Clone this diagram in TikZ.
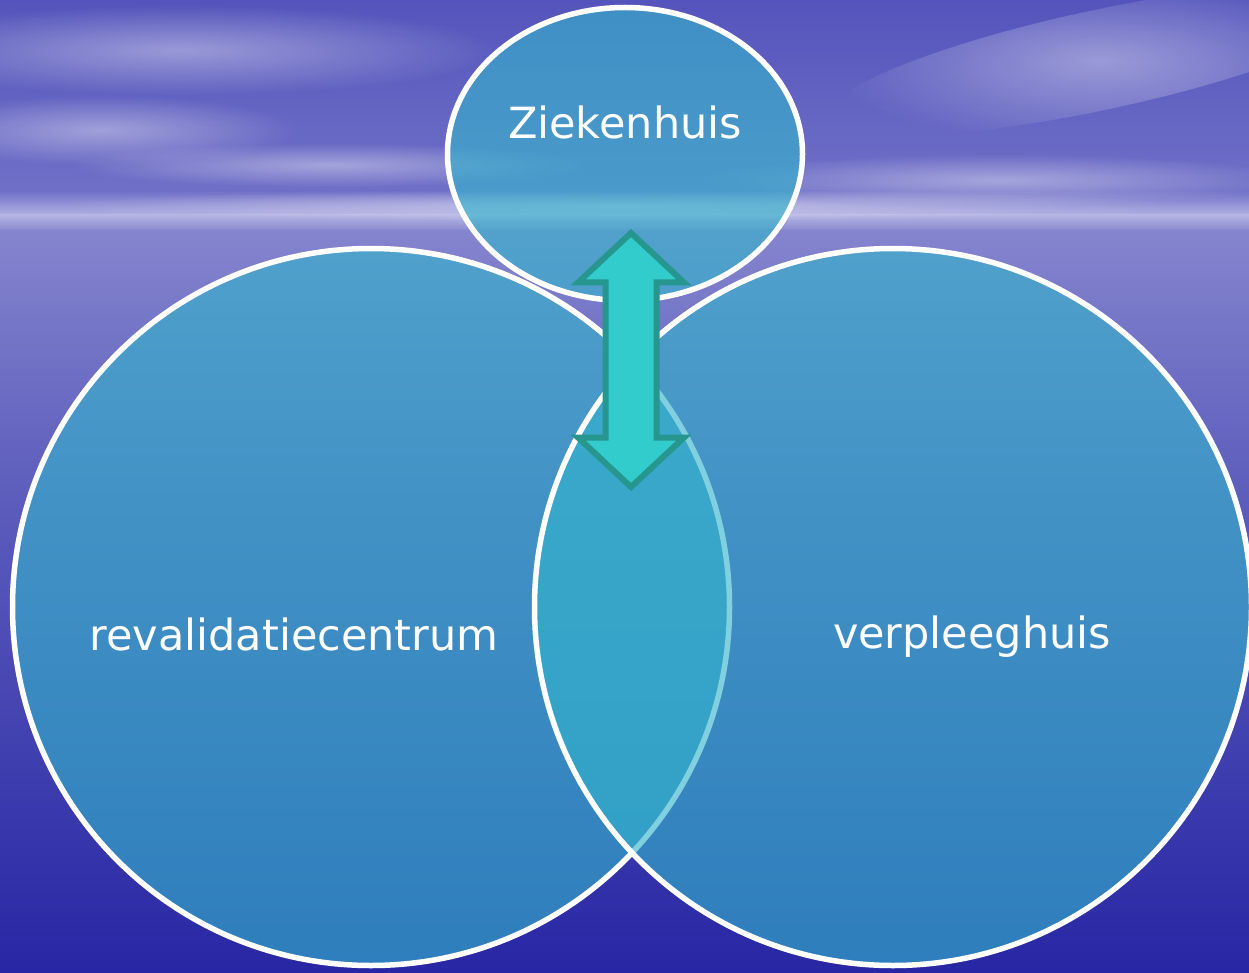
\documentclass[tikz,border=0pt]{standalone}
\usepackage{fontspec}
\setmainfont{DejaVu Sans}
\usetikzlibrary{shapes.geometric,fadings}
\definecolor{vennfill}{RGB}{51,180,204}
\definecolor{arrowfill}{RGB}{51,204,204}
\definecolor{arrowline}{RGB}{38,150,143}
\definecolor{skytop}{RGB}{84,84,188}
\definecolor{skylow}{RGB}{112,112,200}
\definecolor{haze}{RGB}{180,180,228}
\definecolor{seatop}{RGB}{132,132,206}
\definecolor{seamid}{RGB}{96,96,190}
\definecolor{seadeep}{RGB}{40,38,164}
\tikzfading[name=cloudfade, inner color=transparent!62, outer color=transparent!100]
\tikzset{
  venn/.style={circle, draw=white, line width=5.5pt, fill=vennfill, fill opacity=0.62, minimum size=717pt, inner sep=0pt},
  oval/.style={ellipse, draw=white, line width=5.5pt, fill=vennfill, fill opacity=0.62, minimum width=355pt, minimum height=293pt, inner sep=0pt},
  lbl/.style={text=white, font=\fontsize{43}{50}\selectfont, anchor=base, inner sep=0pt},
  blockarrow/.style={fill=arrowfill, draw=arrowline, line width=6pt, line join=miter},
  cloud/.style={fill=white, path fading=cloudfade}
}
\begin{document}
\begin{tikzpicture}[x=1pt,y=-1pt]
\useasboundingbox (0,0) rectangle (1249,973);
% background sky and sea
\shade[top color=skytop, bottom color=skylow] (0,0) rectangle (1249,192);
\shade[top color=skylow, bottom color=haze] (0,191) rectangle (1249,216);
\shade[top color=haze, bottom color=seatop] (0,215) rectangle (1249,232);
\shade[top color=seatop, bottom color=seamid] (0,231) rectangle (1249,470);
\shade[top color=seamid, bottom color=seadeep] (0,469) rectangle (1249,973);
% clouds
\fill[cloud] (180,50) ellipse (320 and 45);
\fill[cloud] (100,130) ellipse (200 and 35);
\fill[cloud] (330,165) ellipse (260 and 22);
\fill[cloud, rotate around={12:(1100,60)}] (1100,60) ellipse (280 and 50);
\fill[cloud] (1000,180) ellipse (300 and 26);
\fill[cloud] (620,205) ellipse (560 and 16);
% shapes
\node[venn] (rc) at (371,607) {};
\node[venn] (vh) at (893,607) {};
\node[oval] (zh) at (625,154) {};
% labels
\node[lbl] (zhl) at (625,139) {Ziekenhuis};
\node[lbl] (rcl) at (294,650) {revalidatiecentrum};
\node[lbl] (vhl) at (972,648) {verpleeghuis};
% block double arrow
\draw[blockarrow] (631,233) -- (684,282.5) -- (656.5,282.5) -- (656.5,437.5) -- (684,437.5) -- (631,487) -- (578,437.5) -- (605.5,437.5) -- (605.5,282.5) -- (578,282.5) -- cycle;
\end{tikzpicture}
\end{document}
